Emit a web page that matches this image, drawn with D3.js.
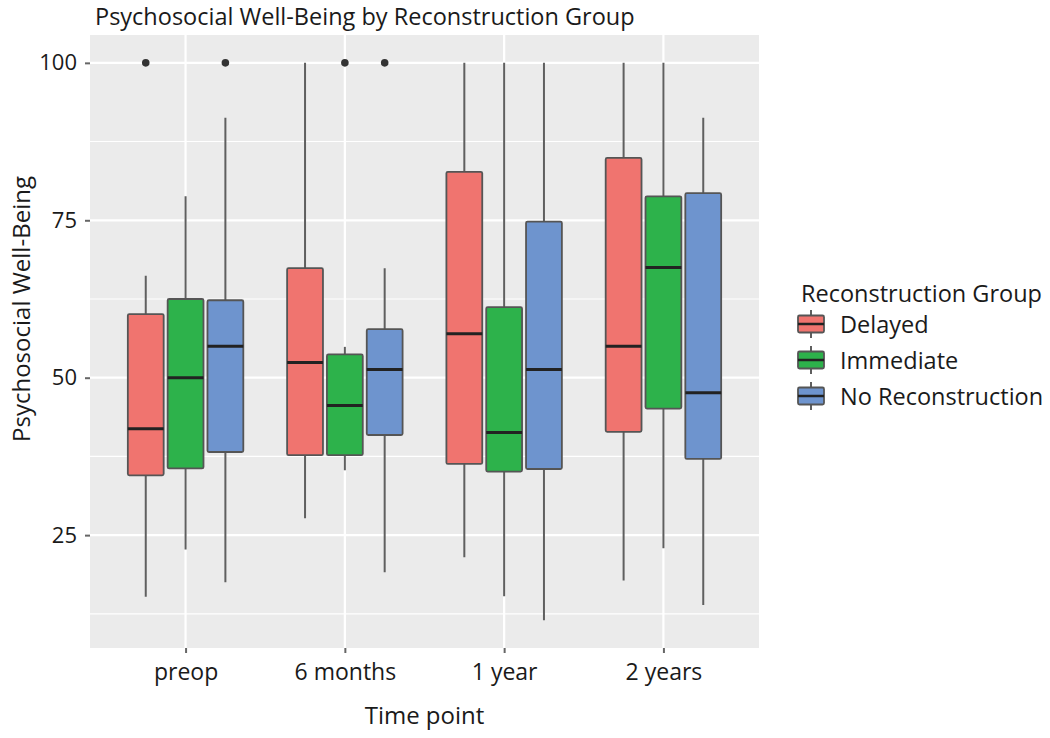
<!DOCTYPE html>
<html>
<head>
<meta charset="utf-8">
<script src="https://cdn.jsdelivr.net/npm/d3@7"></script>
<style>
  html, body { margin: 0; padding: 0; background: #ffffff; }
  svg { display: block; }
  text { font-family: "Open Sans", "Noto Sans", sans-serif; fill: #1a1a1a; }
</style>
</head>
<body>
<svg id="chart" width="1050" height="738"></svg>
<script>
// ---- Data ----
const categories = ["preop", "6 months", "1 year", "2 years"];
const groups = ["Delayed", "Immediate", "No Reconstruction"];
const yTicks = [25, 50, 75, 100];

// five-number summaries per time point: [lower whisker, Q1, median, Q3, upper whisker]
const delayedStats = [
  [15.2, 34.5, 41.9, 60.1, 66.2],
  [27.7, 37.7, 52.4, 67.4, 100],
  [21.5, 36.3, 57.0, 82.7, 100],
  [17.8, 41.4, 55.0, 84.9, 100]
];
const immediateStats = [
  [22.7, 35.6, 50.0, 62.5, 78.8],
  [35.3, 37.7, 45.6, 53.7, 54.9],
  [15.3, 35.1, 41.3, 61.2, 100],
  [22.9, 45.1, 67.5, 78.8, 100]
];
const noReconStats = [
  [17.5, 38.2, 55.0, 62.3, 91.3],
  [19.1, 40.9, 51.3, 57.7, 67.4],
  [11.5, 35.5, 51.3, 74.8, 100],
  [13.9, 37.1, 47.6, 79.3, 91.3]
];
// outliers per time point
const delayedOutliers = [[100], [], [], []];
const immediateOutliers = [[], [100], [], []];
const noReconOutliers = [[100], [100], [], []];

const groupColors = ["#F0746F", "#2DB24B", "#6E94CE"];

// ---- Build table ----
const statsByGroup = [delayedStats, immediateStats, noReconStats];
const outliersByGroup = [delayedOutliers, immediateOutliers, noReconOutliers];
const boxes = [];
groups.forEach((g, gi) => {
  categories.forEach((c, ci) => {
    const s = statsByGroup[gi][ci];
    boxes.push({ group: g, gi, cat: c, lo: s[0], q1: s[1], med: s[2], q3: s[3], hi: s[4], out: outliersByGroup[gi][ci] });
  });
});

// ---- Layout ----
const panel = { left: 90, right: 759, top: 35, bottom: 648 };
const svg = d3.select("#chart");

const allVals = boxes.flatMap(b => [b.lo, b.hi, ...b.out]);
const vMin = d3.min(allVals), vMax = d3.max(allVals);
const pad = (vMax - vMin) * 0.05;
const y = d3.scaleLinear().domain([vMin - pad, vMax + pad]).range([panel.bottom, panel.top]);

// ggplot discrete: expansion 0.6 units on each side
const unit = (panel.right - panel.left) / (categories.length - 1 + 1.2);
const xPoint = d3.scalePoint().domain(categories).range([panel.left + 0.6 * unit, panel.right - 0.6 * unit]);

const dodge = d3.scaleBand().domain(groups).range([-0.375 * unit, 0.375 * unit]).paddingInner(0).paddingOuter(0);
const boxW = dodge.bandwidth() * 0.9;

const FONT = "'Open Sans', 'Noto Sans', sans-serif";

// panel background
svg.append("rect")
  .attr("x", panel.left).attr("y", panel.top)
  .attr("width", panel.right - panel.left).attr("height", panel.bottom - panel.top)
  .attr("fill", "#EBEBEB");

// minor gridlines
const minor = [12.5, 37.5, 62.5, 87.5];
svg.append("g").selectAll("line").data(minor).join("line")
  .attr("x1", panel.left).attr("x2", panel.right)
  .attr("y1", d => y(d)).attr("y2", d => y(d))
  .attr("stroke", "#ffffff").attr("stroke-width", 1.1);
// major gridlines
svg.append("g").selectAll("line").data(yTicks).join("line")
  .attr("x1", panel.left).attr("x2", panel.right)
  .attr("y1", d => y(d)).attr("y2", d => y(d))
  .attr("stroke", "#ffffff").attr("stroke-width", 2.2);
svg.append("g").selectAll("line").data(categories).join("line")
  .attr("x1", d => xPoint(d)).attr("x2", d => xPoint(d))
  .attr("y1", panel.top).attr("y2", panel.bottom)
  .attr("stroke", "#ffffff").attr("stroke-width", 2.2);

// boxes
const gBoxes = svg.append("g");
const bx = b => xPoint(b.cat) + dodge(b.group) + dodge.bandwidth() / 2;

gBoxes.selectAll("line.whisker").data(boxes).join("line")
  .attr("class", "whisker")
  .attr("x1", bx).attr("x2", bx)
  .attr("y1", b => y(b.lo)).attr("y2", b => y(b.hi))
  .attr("stroke", "#5f5f5f").attr("stroke-width", 2);

gBoxes.selectAll("rect.box").data(boxes).join("rect")
  .attr("class", "box")
  .attr("x", b => bx(b) - boxW / 2).attr("width", boxW)
  .attr("y", b => y(b.q3)).attr("height", b => y(b.q1) - y(b.q3))
  .attr("rx", 1.5)
  .attr("fill", b => groupColors[b.gi])
  .attr("stroke", "#555555").attr("stroke-width", 1.8);

gBoxes.selectAll("line.median").data(boxes).join("line")
  .attr("class", "median")
  .attr("x1", b => bx(b) - boxW / 2).attr("x2", b => bx(b) + boxW / 2)
  .attr("y1", b => y(b.med)).attr("y2", b => y(b.med))
  .attr("stroke", "#222222").attr("stroke-width", 3);

const outPts = boxes.flatMap(b => b.out.map(v => ({ b, v })));
gBoxes.selectAll("circle.out").data(outPts).join("circle")
  .attr("class", "out")
  .attr("cx", d => bx(d.b)).attr("cy", d => y(d.v))
  .attr("r", 3.8).attr("fill", "#333333");

// axes
const yAxis = d3.axisLeft(y).tickValues(yTicks).tickSize(5).tickPadding(8);
const gy = svg.append("g").attr("transform", `translate(${panel.left},0)`).call(yAxis);
gy.select(".domain").remove();
gy.selectAll(".tick line").attr("stroke", "#666666").attr("stroke-width", 2);
gy.selectAll(".tick text").attr("font-size", 22).attr("fill", "#1a1a1a")
  .style("font-family", FONT);

const xAxis = d3.axisBottom(xPoint).tickSize(5).tickPadding(11);
const gx = svg.append("g").attr("transform", `translate(0,${panel.bottom})`).call(xAxis);
gx.select(".domain").remove();
gx.selectAll(".tick line").attr("stroke", "#666666").attr("stroke-width", 2);
gx.selectAll(".tick text").attr("font-size", 23).attr("fill", "#1a1a1a")
  .style("font-family", FONT);

// titles
svg.append("text").attr("x", 95).attr("y", 25)
  .attr("font-size", 23.5).text("Psychosocial Well-Being by Reconstruction Group");
svg.append("text").attr("x", (panel.left + panel.right) / 2).attr("y", 724)
  .attr("text-anchor", "middle").attr("font-size", 24).text("Time point");
svg.append("text").attr("transform", "translate(30,309) rotate(-90)")
  .attr("text-anchor", "middle").attr("font-size", 24).text("Psychosocial Well-Being");

// legend
const lg = svg.append("g");
lg.append("text").attr("x", 801).attr("y", 302).attr("font-size", 23.5).text("Reconstruction Group");
const keyY = d3.scalePoint().domain(groups).range([324, 396]);
groups.forEach((g, i) => {
  const cy = keyY(g);
  const kx = 798, kw = 26;
  lg.append("line").attr("x1", kx + kw / 2).attr("x2", kx + kw / 2)
    .attr("y1", cy - 14).attr("y2", cy + 14)
    .attr("stroke", "#5f5f5f").attr("stroke-width", 2);
  lg.append("rect").attr("x", kx).attr("y", cy - 8.5).attr("width", kw).attr("height", 17)
    .attr("rx", 1.5)
    .attr("fill", groupColors[i]).attr("stroke", "#555555").attr("stroke-width", 1.8);
  lg.append("line").attr("x1", kx).attr("x2", kx + kw)
    .attr("y1", cy).attr("y2", cy)
    .attr("stroke", "#222222").attr("stroke-width", 2.5);
  lg.append("text").attr("x", 840).attr("y", cy + 9).attr("font-size", 23.5).text(g);
});
</script>
</body>
</html>
